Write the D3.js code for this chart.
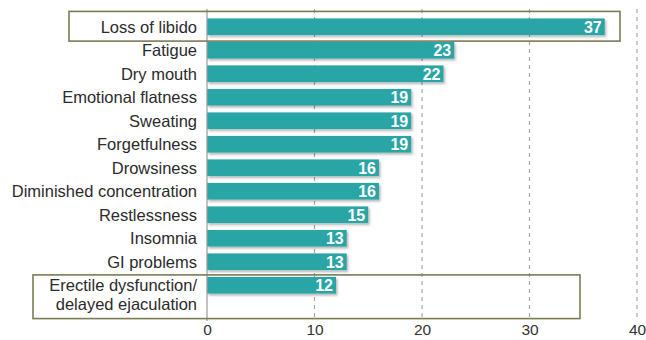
<!DOCTYPE html>
<html>
<head>
<meta charset="utf-8">
<script src="https://cdn.jsdelivr.net/npm/d3@7"></script>
<style>
  html, body { margin: 0; padding: 0; background: #fff; }
  svg { display: block; font-family: "Liberation Sans", Arial, Helvetica, sans-serif; }
</style>
</head>
<body>
<svg id="chart" width="646" height="340"></svg>
<script>
// Reported side effects (% of patients)
const categories = [
  "Loss of libido", "Fatigue", "Dry mouth", "Emotional flatness", "Sweating",
  "Forgetfulness", "Drowsiness", "Diminished concentration", "Restlessness",
  "Insomnia", "GI problems", "Erectile dysfunction/\ndelayed ejaculation"
];
const values = [37, 23, 22, 19, 19, 19, 16, 16, 15, 13, 13, 12];
const tickValues = [0, 10, 20, 30, 40];
const highlighted = ["Loss of libido", "Erectile dysfunction/\ndelayed ejaculation"];

const svg = d3.select("#chart");
const margin = { top: 15, right: 9, bottom: 34, left: 207 };
const W = 646, H = 340;

const x = d3.scaleLinear().domain([0, 40]).range([margin.left, W - margin.right]);
const y = d3.scaleBand().domain(categories)
  .range([margin.top, margin.top + 23.5 * categories.length])
  .paddingInner(0.29).paddingOuter(0.145);

const defs = svg.append("defs");
const shadow = defs.append("filter").attr("id", "barShadow")
  .attr("x", "-5%").attr("y", "-20%").attr("width", "115%").attr("height", "160%");
shadow.append("feDropShadow").attr("dx", 1.5).attr("dy", 2).attr("stdDeviation", 1.2)
  .attr("flood-color", "#000").attr("flood-opacity", 0.28);

const gridTop = 9, gridBottom = 319;

// dashed vertical gridlines
svg.append("g").selectAll("line")
  .data(tickValues.filter(d => d > 0))
  .join("line")
  .attr("x1", d => x(d)).attr("x2", d => x(d))
  .attr("y1", gridTop).attr("y2", gridBottom)
  .attr("stroke", "#a8a8a8").attr("stroke-width", 1.2)
  .attr("stroke-dasharray", "4,4");

// x axis labels
const xAxis = d3.axisBottom(x).tickValues(tickValues).tickSize(0).tickPadding(0);
const gx = svg.append("g").attr("transform", `translate(0,${gridBottom + 5})`).call(xAxis);
gx.select(".domain").remove();
gx.selectAll("text").attr("font-size", 15.5).attr("fill", "#333")
  .attr("font-family", "Liberation Sans, Arial, sans-serif");

// bars
svg.append("g").selectAll("rect")
  .data(values)
  .join("rect")
  .attr("x", x(0))
  .attr("y", (d, i) => y(categories[i]))
  .attr("width", d => x(d) - x(0))
  .attr("height", y.bandwidth())
  .attr("fill", "#2ca5a6")
  .attr("filter", "url(#barShadow)");

// baseline
svg.append("line")
  .attr("x1", x(0)).attr("x2", x(0))
  .attr("y1", gridTop).attr("y2", gridBottom + 2)
  .attr("stroke", "#9a9a9a").attr("stroke-width", 1.2);

// value labels inside bar ends
svg.append("g").selectAll("text")
  .data(values)
  .join("text")
  .attr("x", d => x(d) - 3)
  .attr("y", (d, i) => y(categories[i]) + y.bandwidth() / 2)
  .attr("dy", "0.37em")
  .attr("text-anchor", "end")
  .attr("font-size", 16)
  .attr("font-weight", "bold")
  .attr("fill", "#fff")
  .text(d => d);

// category labels
const labels = svg.append("g").selectAll("text")
  .data(categories)
  .join("text")
  .attr("x", x(0) - 10)
  .attr("y", d => y(d) + y.bandwidth() / 2)
  .attr("text-anchor", "end")
  .attr("font-size", 16.5)
  .attr("fill", "#2b2b2b");
labels.each(function(d) {
  const lines = d.split("\n");
  const t = d3.select(this);
  lines.forEach((ln, k) => {
    t.append("tspan").attr("x", x(0) - 10)
      .attr("dy", k === 0 ? "0.36em" : "1.15em")
      .text(ln);
  });
});

// highlight boxes
const boxes = [
  { cat: highlighted[0], x0: 69, x1: 620, top: -7, bottom: 6 },
  { cat: highlighted[1], x0: 33, x1: 580, top: -2, bottom: 25 }
];
svg.append("g").selectAll("rect")
  .data(boxes)
  .join("rect")
  .attr("x", d => d.x0)
  .attr("y", d => y(d.cat) + d.top)
  .attr("width", d => d.x1 - d.x0)
  .attr("height", d => y.bandwidth() - d.top + d.bottom)
  .attr("fill", "none")
  .attr("stroke", "#7b7b56")
  .attr("stroke-width", 1.6);
</script>
</body>
</html>
